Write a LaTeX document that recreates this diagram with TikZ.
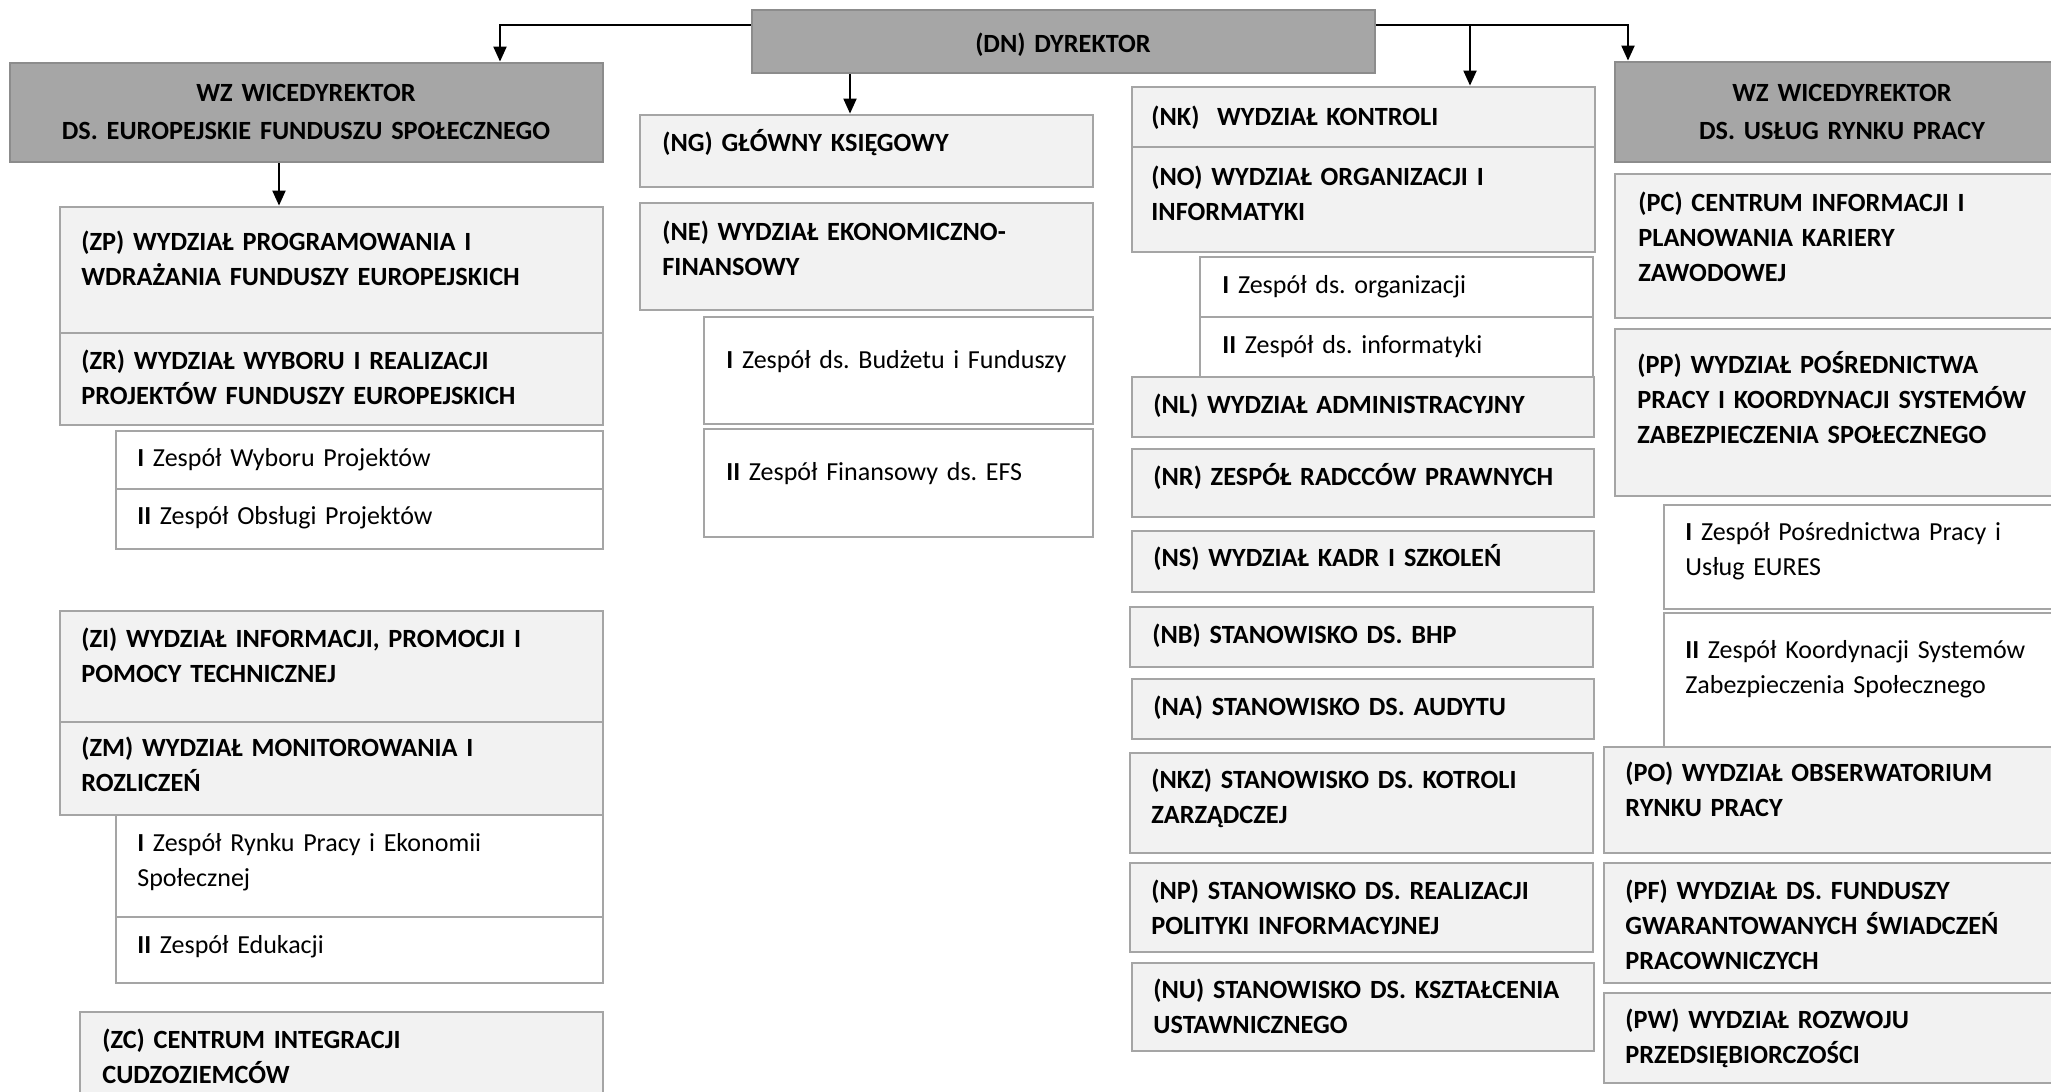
\documentclass[tikz,border=0pt]{standalone}
\usepackage{fontspec}
\setmainfont{Carlito}
\frenchspacing
\usetikzlibrary{arrows.meta,fit}
\definecolor{darkfill}{HTML}{A6A6A6}
\definecolor{darkline}{HTML}{8C8C8C}
\definecolor{lightfill}{HTML}{F2F2F2}
\definecolor{boxline}{HTML}{A5A5A5}

\begin{document}
\begin{tikzpicture}[x=0.5pt,y=-0.5pt,
  box/.style={rectangle, inner sep=0pt, line width=1.4pt},
  headbox/.style={box, draw=darkline, fill=darkfill},
  unitbox/.style={box, draw=boxline, fill=lightfill},
  teambox/.style={box, draw=boxline, fill=white},
  txt/.style={inner sep=0pt, text width=260pt, align=left, anchor=base west,
    font=\fontsize{13}{17.5}\selectfont},
  btxt/.style={txt, font=\fontsize{13.15}{17.5}\selectfont\bfseries},
  title/.style={inner sep=0pt, text width=300pt, align=center, anchor=base,
    font=\fontsize{13.15}{19}\selectfont\bfseries},
  link/.style={line width=1pt, -{Triangle[length=7.5pt,width=6.5pt]}}]

\useasboundingbox (0,0) rectangle (2051,1092);
\fill[white] (0,0) rectangle (2051,1092);
\clip (0,0) rectangle (2051,1092);

% ---------- director ----------
\node[headbox, fit={(752,10)(1375,73)}] (DN) {};
\node[title] (DN-t) at (1063,52) {(DN) DYREKTOR};

% ---------- deputy director: European Social Fund ----------
\node[headbox, fit={(10,63)(603,162)}] (WZL) {};
\node[title] (WZL-t) at (306,101) {WZ WICEDYREKTOR\\DS. EUROPEJSKIE FUNDUSZU SPOŁECZNEGO};

\node[unitbox, fit={(60,207)(603,333)}] (ZP) {};
\node[btxt] (ZP-t) at (81,250) {(ZP) WYDZIAŁ PROGRAMOWANIA I\\WDRAŻANIA FUNDUSZY EUROPEJSKICH};
\node[unitbox, fit={(60,333)(603,425)}] (ZR) {};
\node[btxt] (ZR-t) at (81,369) {(ZR) WYDZIAŁ WYBORU I REALIZACJI\\PROJEKTÓW FUNDUSZY EUROPEJSKICH};
\node[teambox, fit={(116,431)(603,489)}] (ZR1) {};
\node[txt] (ZR1-t) at (137,466) {\textbf{I} Zespół Wyboru Projektów};
\node[teambox, fit={(116,489)(603,549)}] (ZR2) {};
\node[txt] (ZR2-t) at (137,524) {\textbf{II} Zespół Obsługi Projektów};

\node[unitbox, fit={(60,611)(603,722)}] (ZI) {};
\node[btxt] (ZI-t) at (81,647) {(ZI) WYDZIAŁ INFORMACJI, PROMOCJI I\\POMOCY TECHNICZNEJ};
\node[unitbox, fit={(60,722)(603,815)}] (ZM) {};
\node[btxt] (ZM-t) at (81,756) {(ZM) WYDZIAŁ MONITOROWANIA I\\ROZLICZEŃ};
\node[teambox, fit={(116,815)(603,917)}] (ZM1) {};
\node[txt] (ZM1-t) at (137,851) {\textbf{I} Zespół Rynku Pracy i Ekonomii\\Społecznej};
\node[teambox, fit={(116,917)(603,983)}] (ZM2) {};
\node[txt] (ZM2-t) at (137,953) {\textbf{II} Zespół Edukacji};

\node[unitbox, fit={(80,1012)(603,1100)}] (ZC) {};
\node[btxt] (ZC-t) at (102,1048) {(ZC) CENTRUM INTEGRACJI\\CUDZOZIEMCÓW};

% ---------- units reporting to the director ----------
\node[unitbox, fit={(640,115)(1093,187)}] (NG) {};
\node[btxt] (NG-t) at (662,151) {(NG) GŁÓWNY KSIĘGOWY};
\node[unitbox, fit={(640,203)(1093,310)}] (NE) {};
\node[btxt] (NE-t) at (662,240) {(NE) WYDZIAŁ EKONOMICZNO-\\FINANSOWY};
\node[teambox, fit={(704,317)(1093,424)}] (NE1) {};
\node[txt] (NE1-t) at (726,368) {\textbf{I} Zespół ds. Budżetu i Funduszy};
\node[teambox, fit={(704,429)(1093,537)}] (NE2) {};
\node[txt] (NE2-t) at (726,480) {\textbf{II} Zespół Finansowy ds. EFS};

\node[unitbox, fit={(1132,87)(1595,147)}] (NK) {};
\node[btxt] (NK-t) at (1151,125) {(NK)\ \ WYDZIAŁ KONTROLI};
\node[unitbox, fit={(1132,147)(1595,252)}] (NO) {};
\node[btxt] (NO-t) at (1151,185) {(NO) WYDZIAŁ ORGANIZACJI I\\INFORMATYKI};
\node[teambox, fit={(1200,257)(1593,317)}] (NO1) {};
\node[txt] (NO1-t) at (1222,293) {\textbf{I} Zespół ds. organizacji};
\node[teambox, fit={(1200,317)(1593,377)}] (NO2) {};
\node[txt] (NO2-t) at (1222,353) {\textbf{II} Zespół ds. informatyki};
\node[unitbox, fit={(1132,377)(1594,437)}] (NL) {};
\node[btxt] (NL-t) at (1153,413) {(NL) WYDZIAŁ ADMINISTRACYJNY};
\node[unitbox, fit={(1132,449)(1594,517)}] (NR) {};
\node[btxt] (NR-t) at (1153,485) {(NR) ZESPÓŁ RADCCÓW PRAWNYCH};
\node[unitbox, fit={(1132,531)(1594,592)}] (NS) {};
\node[btxt] (NS-t) at (1153,566) {(NS) WYDZIAŁ KADR I SZKOLEŃ};
\node[unitbox, fit={(1130,607)(1593,667)}] (NB) {};
\node[btxt] (NB-t) at (1152,643) {(NB) STANOWISKO DS. BHP};
\node[unitbox, fit={(1132,679)(1594,739)}] (NA) {};
\node[btxt] (NA-t) at (1153,715) {(NA) STANOWISKO DS. AUDYTU};
\node[unitbox, fit={(1130,753)(1593,853)}] (NKZ) {};
\node[btxt] (NKZ-t) at (1151,788) {(NKZ) STANOWISKO DS. KOTROLI\\ZARZĄDCZEJ};
\node[unitbox, fit={(1130,863)(1593,952)}] (NP) {};
\node[btxt] (NP-t) at (1151,899) {(NP) STANOWISKO DS. REALIZACJI\\POLITYKI INFORMACYJNEJ};
\node[unitbox, fit={(1132,963)(1594,1051)}] (NU) {};
\node[btxt] (NU-t) at (1153,998) {(NU) STANOWISKO DS. KSZTAŁCENIA\\USTAWNICZNEGO};

% ---------- deputy director: labour market services ----------
\node[headbox, fit={(1615,62)(2069,162)}] (WZR) {};
\node[title] (WZR-t) at (1842,101) {WZ WICEDYREKTOR\\DS. USŁUG RYNKU PRACY};
\node[unitbox, fit={(1615,174)(2069,318)}] (PC) {};
\node[btxt] (PC-t) at (1638,211) {(PC) CENTRUM INFORMACJI I\\PLANOWANIA KARIERY\\ZAWODOWEJ};
\node[unitbox, fit={(1615,329)(2069,496)}] (PP) {};
\node[btxt] (PP-t) at (1637,373) {(PP) WYDZIAŁ POŚREDNICTWA\\PRACY I KOORDYNACJI SYSTEMÓW\\ZABEZPIECZENIA SPOŁECZNEGO};
\node[teambox, fit={(1664,505)(2069,609)}] (PP1) {};
\node[txt] (PP1-t) at (1685,540) {\textbf{I} Zespół Pośrednictwa Pracy i\\Usług EURES};
\node[teambox, fit={(1664,613)(2069,747)}] (PP2) {};
\node[txt] (PP2-t) at (1685,658) {\textbf{II} Zespół Koordynacji Systemów\\Zabezpieczenia Społecznego};
\node[unitbox, fit={(1604,747)(2069,853)}] (PO) {};
\node[btxt] (PO-t) at (1625,781) {(PO) WYDZIAŁ OBSERWATORIUM\\RYNKU PRACY};
\node[unitbox, fit={(1604,863)(2069,983)}] (PF) {};
\node[btxt] (PF-t) at (1625,899) {(PF) WYDZIAŁ DS. FUNDUSZY\\GWARANTOWANYCH ŚWIADCZEŃ\\PRACOWNICZYCH};
\node[unitbox, fit={(1604,993)(2069,1083)}] (PW) {};
\node[btxt] (PW-t) at (1625,1028) {(PW) WYDZIAŁ ROZWOJU\\PRZEDSIĘBIORCZOŚCI};

% ---------- connectors ----------
\coordinate (jL) at (500,25);
\coordinate (jR) at (1628,25);
\coordinate (jK) at (1470,25);
\coordinate (jG) at (850,0);
\coordinate (jZ) at (279,0);
\draw[link] (DN.west |- jL) -| (jL |- WZL.north);
\draw[link] (DN.east |- jR) -| (jR |- WZR.north);
\draw[link] (jK) -- (jK |- NK.north);
\draw[link] (jG |- DN.south) -- (jG |- NG.north);
\draw[link] (jZ |- WZL.south) -- (jZ |- ZP.north);
\end{tikzpicture}
\end{document}
